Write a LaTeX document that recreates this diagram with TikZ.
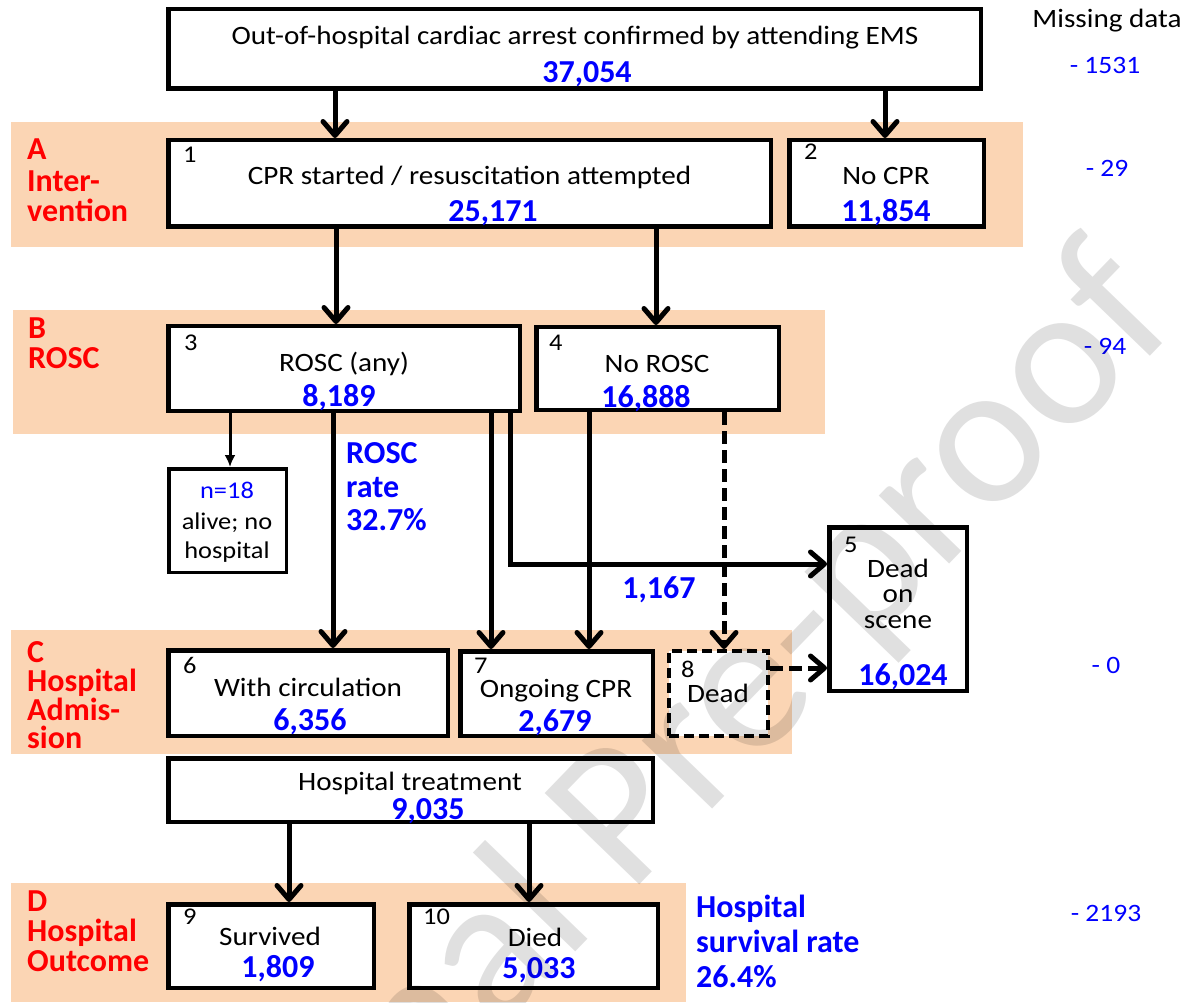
\documentclass[tikz,border=0pt]{standalone}
\usepackage{fontspec}
\setmainfont{Carlito}
\newfontfamily\rg[FakeStretch=1.1]{Carlito}
\usetikzlibrary{arrows.meta}
\definecolor{peach}{HTML}{FBD5B4}
\definecolor{nblue}{HTML}{0000FF}
\definecolor{nred}{HTML}{FF0000}
\begin{document}
\begin{tikzpicture}[x=1pt,y=-1pt,
  box/.style={draw, line width=4.5pt, fill=white, inner sep=0pt},
  band/.style={fill=peach},
  rt/.style={font=\rg\fontsize{26.5}{27}\selectfont, inner sep=0pt, anchor=base},
  st/.style={font=\rg\fontsize{24}{24}\selectfont, inner sep=0pt, anchor=base},
  nm/.style={font=\bfseries\fontsize{32}{32}\selectfont, text=nblue, inner sep=0pt, anchor=base},
  ix/.style={font=\rg\fontsize{24}{24}\selectfont, inner sep=0pt, anchor=base west},
  lb/.style={font=\bfseries\fontsize{32}{32}\selectfont, text=nred, inner sep=0pt, anchor=base west},
  rate/.style={font=\bfseries\fontsize{32}{32}\selectfont, text=nblue, inner sep=0pt, anchor=base west},
  miss/.style={font=\rg\fontsize{25}{25}\selectfont, text=nblue, inner sep=0pt, anchor=base},
  arr/.style={line width=5pt, -{Straight Barb[length=14pt, width=24pt, round]}},
  darr/.style={arr, dash pattern=on 13pt off 6pt},
  tarr/.style={line width=3pt, -{Latex[length=12pt, width=11pt]}},
  wmark/.style={font=\fontsize{205}{205}\selectfont, text=black, text opacity=0.12, inner sep=0pt},
]
\path[use as bounding box] (0,0) rectangle (1187,1003);
\clip (0,0) rectangle (1187,1003);
\fill[white] (0,0) rectangle (1187,1003);

% bands
\fill[band] (11,122) rectangle (1023,247);
\fill[band] (13,310) rectangle (825,434);
\fill[band] (11,630) rectangle (792,754);
\fill[band] (11,883) rectangle (686,1002);

% boxes
\node[box, minimum width=812.5pt, minimum height=79.5pt] (top) at (574.5,49) {};
\node[box, minimum width=602.5pt, minimum height=86.5pt] (b1) at (469.5,183.5) {};
\node[box, minimum width=194.5pt, minimum height=86.5pt] (b2) at (886.5,183.5) {};
\node[box, minimum width=351.5pt, minimum height=84.5pt] (b3) at (344,368.5) {};
\node[box, minimum width=242.5pt, minimum height=82.5pt] (b4) at (657.5,368.5) {};
\node[box, line width=3.5pt, minimum width=117.5pt, minimum height=103.5pt] (bn) at (227.5,520.5) {};
\node[box, minimum width=137.5pt, minimum height=163.5pt] (b5) at (898,609) {};
\node[box, minimum width=279.5pt, minimum height=85.5pt] (b6) at (308,693) {};
\node[box, minimum width=192.5pt, minimum height=84.5pt] (b7) at (556.5,693.5) {};
\node[box, line width=4pt, dash pattern=on 10pt off 5pt, minimum width=99pt, minimum height=85pt] (b8) at (718.5,693.5) {};
\node[box, minimum width=484.5pt, minimum height=63.5pt] (ht) at (410.5,790) {};
\node[box, minimum width=205.5pt, minimum height=83.5pt] (b9) at (271,946) {};
\node[box, minimum width=248.5pt, minimum height=83.5pt] (b10) at (533.5,946) {};

% connector positions
\coordinate (xa) at (335,0);
\coordinate (xb) at (885,0);
\coordinate (xc) at (336,0);
\coordinate (xd) at (656,0);
\coordinate (xe) at (230,0);
\coordinate (xf) at (333,0);
\coordinate (xg) at (491,0);
\coordinate (xh) at (510,0);
\coordinate (xi) at (589,0);
\coordinate (xj) at (724,0);
\coordinate (xk) at (289,0);
\coordinate (xl) at (529,0);
\coordinate (ya) at (0,564);
\coordinate (yb) at (0,668);

% connectors
\draw[arr] (top.south -| xa) -- (b1.north -| xa);
\draw[arr] (top.south -| xb) -- (b2.north -| xb);
\draw[arr] (b1.south -| xc) -- (b3.north -| xc);
\draw[arr] (b1.south -| xd) -- (b4.north -| xd);
\draw[tarr] (b3.south -| xe) -- (bn.north -| xe);
\draw[arr] (b3.south -| xf) -- (b6.north -| xf);
\draw[arr] (b3.south -| xg) -- (b7.north -| xg);
\draw[arr] (b3.south -| xh) |- (b5.west |- ya);
\draw[arr] (b4.south -| xi) -- (b7.north -| xi);
\draw[darr] (b4.south -| xj) -- (b8.north -| xj);
\draw[darr] (b8.east |- yb) -- (b5.west |- yb);
\draw[arr] (ht.south -| xk) -- (b9.north -| xk);
\draw[arr] (ht.south -| xl) -- (b10.north -| xl);

% texts in boxes
\node[rt] (t0) at (575,45) {Out-of-hospital cardiac arrest confirmed by attending EMS};
\node[nm] (n0) at (587,83) {37,054};
\node[ix] (i1) at (183,163) {1};
\node[rt] (t1) at (469.5,185) {CPR started / resuscitation attempted};
\node[nm] (n1) at (493,222) {25,171};
\node[ix] (i2) at (804,160) {2};
\node[rt] (t2) at (886,185) {No CPR};
\node[nm] (n2) at (886,222) {11,854};
\node[ix] (i3) at (184,350) {3};
\node[rt] (t3) at (344,371) {ROSC (any)};
\node[nm] (n3) at (339,406) {8,189};
\node[ix] (i4) at (549,350) {4};
\node[rt] (t4) at (657,372) {No ROSC};
\node[nm] (n4) at (646,407) {16,888};
\node[st, text=nblue] (tn1) at (227,498) {n=18};
\node[st] (tn2) at (227,529) {alive; no};
\node[st] (tn3) at (227,558) {hospital};
\node[ix] (i5) at (844,552) {5};
\node[rt] (t5a) at (898,577) {Dead};
\node[rt] (t5b) at (898,602) {on};
\node[rt] (t5c) at (898,628) {scene};
\node[nm] (n5) at (903,685) {16,024};
\node[ix] (i6) at (183,673) {6};
\node[rt] (t6) at (308,696) {With circulation};
\node[nm] (n6) at (310,730) {6,356};
\node[ix] (i7) at (474,673) {7};
\node[rt] (t7) at (556,697) {Ongoing CPR};
\node[nm] (n7) at (555,731) {2,679};
\node[ix] (i8) at (681,677) {8};
\node[rt] (t8) at (718,702) {Dead};
\node[rt] (tht) at (410,790) {Hospital treatment};
\node[nm] (nht) at (428,819) {9,035};
\node[ix] (i9) at (183,924) {9};
\node[rt] (t9) at (270,945) {Survived};
\node[nm] (n9) at (278,977) {1,809};
\node[ix] (i10) at (423,924) {10};
\node[rt] (t10) at (535,946) {Died};
\node[nm] (n10) at (539,978) {5,033};
\node[nm] (n167) at (659,598) {1,167};

% stage labels
\node[lb] (la1) at (27,160) {A};
\node[lb] (la2) at (27,192) {Inter-};
\node[lb] (la3) at (27,222) {vention};
\node[lb] (lb1) at (28,338) {B};
\node[lb] (lb2) at (28,368) {ROSC};
\node[lb] (lc1) at (27,662) {C};
\node[lb] (lc2) at (27,691) {Hospital};
\node[lb] (lc3) at (27,720) {Admis-};
\node[lb] (lc4) at (27,748) {sion};
\node[lb] (ld1) at (27,911) {D};
\node[lb] (ld2) at (27,941) {Hospital};
\node[lb] (ld3) at (27,971) {Outcome};

% rates
\node[rate] (r1) at (346,463) {ROSC};
\node[rate] (r2) at (346,497) {rate};
\node[rate] (r3) at (346,530) {32.7\%};
\node[rate] (s1) at (696,917) {Hospital};
\node[rate] (s2) at (696,952) {survival rate};
\node[rate] (s3) at (696,987) {26.4\%};

% missing data
\node[rt] (md) at (1107,28) {Missing data};
\node[miss] (m1) at (1105,74) {- 1531};
\node[miss] (m2) at (1107,177) {- 29};
\node[miss] (m3) at (1105,354) {- 94};
\node[miss] (m4) at (1106,673) {- 0};
\node[miss] (m5) at (1106,921) {- 2193};

% watermark
\node[wmark, rotate=46, anchor=base west] (wm) at (177,1364) {Journal Pre-proof};
\end{tikzpicture}
\end{document}
